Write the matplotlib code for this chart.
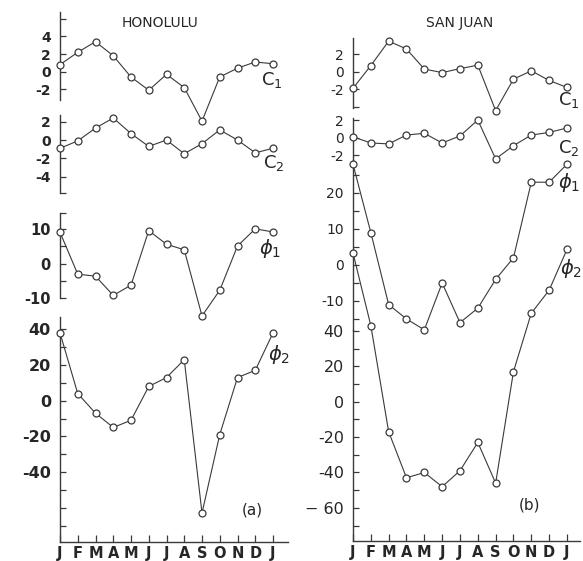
import matplotlib
matplotlib.use("Agg")
import matplotlib.pyplot as plt

# ---------------- data ----------------
months = ['J', 'F', 'M', 'A', 'M', 'J', 'J', 'A', 'S', 'O', 'N', 'D', 'J']

hon_c1 = [0.8, 2.2, 3.4, 1.8, -0.6, -2.1, -0.3, -1.8, -5.6, -0.6, 0.4, 1.1, 0.9]
hon_c2 = [-0.9, -0.1, 1.3, 2.4, 0.7, -0.7, 0.0, -1.5, -0.4, 1.1, 0.0, -1.4, -0.9]
hon_phi1 = [9.1, -3.1, -3.7, -9.3, -6.3, 9.6, 5.6, 4.0, -15.3, -7.8, 5.1, 10.1, 9.2]
hon_phi2 = [38, 4, -7, -15, -11, 8, 13, 23, -63, -19, 13, 17, 38]

sj_c1 = [-1.9, 0.7, 3.5, 2.6, 0.3, -0.1, 0.35, 0.75, -4.45, -0.85, 0.1, -1.0, -1.8]
sj_c2 = [0.1, -0.6, -0.7, 0.3, 0.5, -0.6, 0.2, 2.0, -2.4, -0.9, 0.3, 0.6, 1.1]
sj_phi1 = [28, 9, -11, -15, -18, -5, -16, -12, -4, 2, 23, 23, 28]
sj_phi2 = [84, 43, -17, -43, -40, -48, -39, -23, -46, 17, 50, 63, 86]

# ---------------- style ----------------
W, H = 583, 561
LC = '#3a3a3a'
TC = '#262626'
plt.rcParams['font.family'] = ['DejaVu Sans']

fig = plt.figure(figsize=(W / 100, H / 100), dpi=100)
fig.patch.set_facecolor('white')


def make_ax(x0, x1, ytop, ybot, zero_px, ppu, ppm, ticks, labels, fs,
            bottom=False, weight='normal'):
    ax = fig.add_axes([x0 / W, 1 - ybot / H, (x1 - x0) / W, (ybot - ytop) / H])
    ax.patch.set_alpha(0)
    ax.set_xlim(0, (x1 - x0) / ppm)
    ax.set_ylim((zero_px - ybot) / ppu, (zero_px - ytop) / ppu)
    for s in ['top', 'right']:
        ax.spines[s].set_visible(False)
    ax.spines['bottom'].set_visible(bottom)
    ax.spines['left'].set_color(LC)
    ax.spines['left'].set_linewidth(1.0)
    ax.spines['bottom'].set_color(LC)
    ax.spines['bottom'].set_linewidth(1.0)
    ax.set_yticks(ticks)
    ax.set_yticklabels(labels, fontweight=weight)
    ax.tick_params(axis='y', direction='in', length=4, width=0.9, color=LC,
                   labelsize=fs, labelcolor=TC, pad=6.5)
    if bottom:
        ax.set_xticks(range(len(months)))
        ax.set_xticklabels(months, fontweight='bold')
        ax.tick_params(axis='x', direction='in', length=5, width=0.9, color=LC,
                       labelsize=10.5, labelcolor=TC, pad=3)
    else:
        ax.set_xticks([])
    return ax


def plot(ax, vals):
    ax.plot(range(len(vals)), vals, '-o', color=LC, lw=0.8, ms=5,
            mfc='white', mec=LC, mew=0.9, clip_on=False, zorder=5)


# ---------------- Honolulu (a) ----------------
hx0, hx1, hppm = 60, 288, 17.75
ax = make_ax(hx0, hx1, 11.7, 100, 71.7, 8.83, hppm,
             [-2, 0, 2, 4, 6], ['-2', '0', '2', '4', ''], 10, weight='semibold')
plot(ax, hon_c1)
ax = make_ax(hx0, hx1, 115, 193.3, 140, 9.17, hppm,
             [-5.8, -4, -2, 0, 2], ['', '-4', '-2', '0', '2'], 10,
             weight='semibold')
plot(ax, hon_c2)
ax = make_ax(hx0, hx1, 213, 298, 263.5, 3.43, hppm,
             [-10, -5, 0, 5, 10, 14.7], ['-10', '', '0', '', '10', ''], 10.5,
             weight='semibold')
plot(ax, hon_phi1)
ax = make_ax(hx0, hx1, 316.7, 541.7, 400.7, 1.783, hppm,
             list(range(-70, 50, 10)),
             ['', '', '', '-40', '', '-20', '', '0', '', '20', '', '40'], 11.5,
             bottom=True, weight='semibold')
plot(ax, hon_phi2)

# ---------------- San Juan (b) ----------------
sx0, sx1, sppm = 353, 580, 17.83
ax = make_ax(sx0, sx1, 38.3, 108.3, 71.7, 8.73, sppm,
             [-4, -2, 0, 2], ['', '-2', '0', '2'], 10)
plot(ax, sj_c1)
ax = make_ax(sx0, sx1, 118.3, 160, 137.7, 8.83, sppm,
             [-2, 0, 2], ['-2', '0', '2'], 10)
plot(ax, sj_c2)
ax = make_ax(sx0, sx1, 160, 330, 265, 3.6, sppm,
             [-15, -10, -5, 0, 5, 10, 15, 20, 25],
             ['', '-10', '', '0', '', '10', '', '20', ''], 10)
plot(ax, sj_phi1)
ax = make_ax(sx0, sx1, 330, 540.7, 401.7, 1.77, sppm,
             list(range(-70, 50, 10)),
             ['', '\u2212 60', '', '-40', '', '-20', '', '0', '', '20', '', '40'],
             11.5, bottom=True)
plot(ax, sj_phi2)

# ---------------- texts ----------------
def ftext(x, y, s, fs=10, **kw):
    fig.text(x / W, 1 - y / H, s, fontsize=fs, color=TC, ha='center',
             va='center', **kw)

ftext(160, 23, 'HONOLULU', 10)
ftext(460, 23, 'SAN JUAN', 10)
ftext(272, 80, r'$\mathrm{C}_1$', 13)
ftext(274, 163, r'$\mathrm{C}_2$', 13)
ftext(270, 248, r'$\phi_1$', 14)
ftext(279, 355, r'$\phi_2$', 14)
ftext(252, 510, '(a)', 11)
ftext(569, 100, r'$\mathrm{C}_1$', 13)
ftext(569, 148, r'$\mathrm{C}_2$', 13)
ftext(569, 182, r'$\phi_1$', 14)
ftext(571, 268, r'$\phi_2$', 14)
ftext(530, 505, '(b)', 11)

fig.savefig('out.png', dpi=100, facecolor='white')
